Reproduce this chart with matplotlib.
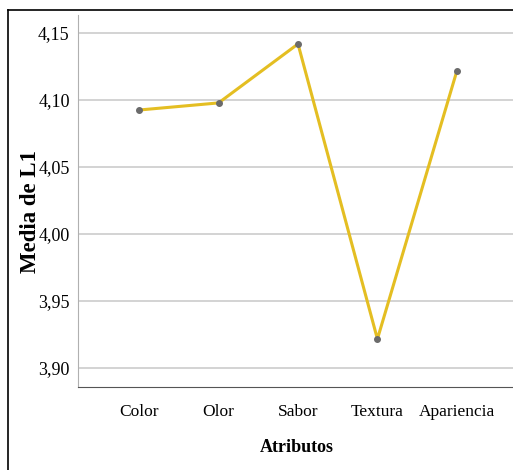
import matplotlib.pyplot as plt
from matplotlib.lines import Line2D

plt.rcParams['font.family'] = ['Liberation Serif', 'DejaVu Serif']

categories = ['Color', 'Olor', 'Sabor', 'Textura', 'Apariencia']
means = [4.0925, 4.0978, 4.1418, 3.9216, 4.1216]
yticks = [3.90, 3.95, 4.00, 4.05, 4.10, 4.15]

W, H = 513, 470
fig = plt.figure(figsize=(W / 100, H / 100), dpi=100)

# axes box in pixel coordinates (left, top, right, bottom)
l, t, r, b = 78, 15, 518, 387
ax = fig.add_axes([l / W, 1 - b / H, (r - l) / W, (b - t) / H])

x = list(range(len(categories)))
ax.plot(x, means, color='#E4BE22', lw=2.2, zorder=3)
ax.scatter(x, means, s=16, color='#6b6b6b', zorder=4)

ax.set_xlim(-0.77, 4.77)
ax.set_ylim(3.8858, 4.1634)
ax.set_yticks(yticks)
ax.set_yticklabels([f"{v:.2f}".replace('.', ',') for v in yticks], fontsize=13)
ax.set_xticks(x)
ax.set_xticklabels(categories, fontsize=12.5)
ax.tick_params(length=0, pad=6)
ax.tick_params(axis='x', pad=12)
ax.grid(axis='y', color='#c8c8c8', lw=1.1)
ax.set_axisbelow(True)
for s in ['top', 'right']:
    ax.spines[s].set_visible(False)
ax.spines['left'].set_color('#b0b0b0')
ax.spines['bottom'].set_color('#555555')

fig.text(30 / W, 1 - 212 / H, 'Media de L1', rotation=90, fontsize=16.5,
         fontweight='bold', ha='center', va='center')
fig.text(297 / W, 1 - 448 / H, 'Atributos', fontsize=13,
         fontweight='bold', ha='center', va='center')

# outer frame (top and left)
fig.add_artist(Line2D([8 / W, 1], [1 - 10 / H, 1 - 10 / H], color='black', lw=1.2))
fig.add_artist(Line2D([8 / W, 8 / W], [1 - 10 / H, 0], color='black', lw=1.2))

fig.savefig('out.png', dpi=100)
